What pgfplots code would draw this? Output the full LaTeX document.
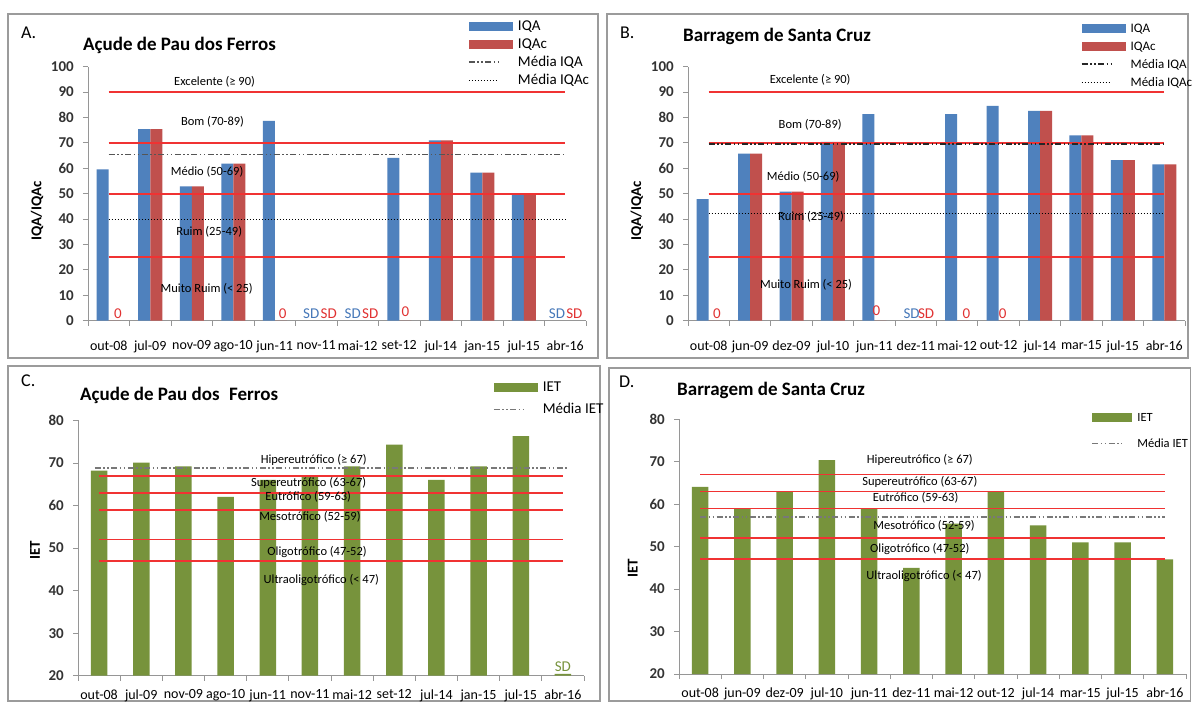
\documentclass[border=0pt]{standalone}
\usepackage{pgfplots}
\pgfplotsset{compat=1.18}
\usepackage{fontspec}
\setmainfont{Carlito}
\definecolor{iqa}{RGB}{79,129,189}
\definecolor{iqac}{RGB}{192,80,77}
\definecolor{iet}{RGB}{119,147,60}
\definecolor{bandred}{RGB}{240,50,50}
\definecolor{framec}{RGB}{155,155,155}
\definecolor{axgray}{RGB}{150,150,150}
\definecolor{meangray}{RGB}{85,85,85}
\definecolor{ietmean}{RGB}{120,120,120}
\definecolor{zerored}{RGB}{225,50,50}
\definecolor{sdblue}{RGB}{70,120,185}
\newcommand{\fs}[1]{\fontsize{#1}{#1}\selectfont}

\tikzset{
  bandlabel/.style={font=\fs{12.5}, text=black, inner sep=0pt},
  zlabel/.style={font=\fs{15}, text=zerored, inner sep=0pt, anchor=south},
  sdlabel/.style={font=\fs{15}, inner sep=0pt, anchor=south},
}
\pgfplotsset{
  panel/.style={
    scale only axis,
    axis lines*=left,
    axis line style={draw=axgray, line width=0.9pt},
    tick style={draw=axgray, line width=0.9pt},
    tick align=outside,
    major tick length=5pt,
    xmin=-0.5, xmax=11.5,
    xtick={-0.5,0.5,...,11.5},
    /pgf/number format/assume math mode=true,
    yticklabel style={font=\fs{15}\bfseries, text=black!80, inner sep=0pt, anchor=east, xshift=-9pt},
    xticklabel style={font=\fs{14}, inner sep=0pt, anchor=north, yshift=-15pt},
    ylabel style={font=\fs{15}\bfseries},
    clip mode=individual,
    legend cell align=left,
    legend style={draw=none, fill=none, font=\fs{15}, anchor=north west, inner sep=0pt,
        nodes={inner sep=1pt, text height=10pt, text depth=2pt},
        /tikz/every odd column/.append style={column sep=4pt}},
  },
  bandline/.style={color=bandred, draw=bandred, line width=1.8pt, forget plot, mark=none, sharp plot, solid},
  dashdotdot/.style={dash pattern=on 6pt off 2.5pt on 1.5pt off 2.5pt on 1.5pt off 2.5pt},
  barlegend/.style={legend image code/.code={\fill[##1] (0pt,-4.5pt) rectangle (44pt,4.5pt);}},
  barlegendD/.style={legend image code/.code={\fill[##1] (0pt,-4.5pt) rectangle (40pt,4.5pt);}},
  linelegend/.style={legend image code/.code={\draw[##1] (0pt,0pt) -- (30pt,0pt);}},
}

\begin{document}
\begin{tikzpicture}[x=1pt, y=1pt]
\useasboundingbox (0,0) rectangle (1192,702);
\fill[white] (0,0) rectangle (1192,702);
% frames
\draw[framec, line width=1.5pt] (8,344) rectangle (598,688);
\draw[framec, line width=1.5pt] (607,344) rectangle (1188,688);
\draw[framec, line width=1.5pt] (8,1) rectangle (600,336);
\draw[framec, line width=1.5pt] (609,1) rectangle (1190.5,334);
% titles
\node[anchor=west, font=\fs{18}, inner sep=0pt] at (21,669) {A.};
\node[anchor=west, font=\fs{19}\bfseries, inner sep=0pt] at (83,657) {Açude de Pau dos Ferros};
\node[anchor=west, font=\fs{18}, inner sep=0pt] at (620,669) {B.};
\node[anchor=west, font=\fs{19}\bfseries, inner sep=0pt] at (683,666) {Barragem de Santa Cruz};
\node[anchor=west, font=\fs{18}, inner sep=0pt] at (21,321) {C.};
\node[anchor=west, font=\fs{19}\bfseries, inner sep=0pt] at (80,307) {Açude de Pau dos\hspace{0.5em}Ferros};
\node[anchor=west, font=\fs{18}, inner sep=0pt] at (619,320) {D.};
\node[anchor=west, font=\fs{19}\bfseries, inner sep=0pt] at (677,312) {Barragem de Santa Cruz};

% ---------------- Panel A ----------------
\begin{axis}[panel, at={(88pt,381.3pt)}, anchor=south west,
  width=498pt, height=254pt, ymin=0, ymax=100, ytick={0,10,...,100},
  xticklabels={out-08,jul-09,nov-09,ago-10,jun-11,nov-11,mai-12,set-12,jul-14,jan-15,jul-15,abr-16,{}},
  xticklabel style={xshift=20.75pt},
  ylabel={IQA/IQAc}, ylabel style={at={(axis description cs:-0.1024,0.432)}, anchor=center},
  legend style={at={(axis description cs:0.763,1.188)}, row sep=4pt},
]
\addplot[ybar, bar width=12pt, bar shift=-6pt, fill=iqa, draw=none, barlegend] coordinates
  {(0,59.6) (1,75.4) (2,52.9) (3,61.8) (4,78.7) (7,64.1) (8,71.0) (9,58.3) (10,50.2)};
\addlegendentry{IQA}
\addplot[ybar, bar width=12pt, bar shift=6pt, fill=iqac, draw=none, barlegend] coordinates
  {(0,0) (1,75.4) (2,52.9) (3,61.8) (4,0) (7,0) (8,71.0) (9,58.3) (10,50.2)};
\addlegendentry{IQAc}
\addplot[bandline] coordinates {(0,90) (11,90)};
\addplot[bandline] coordinates {(0,70) (11,70)};
\addplot[bandline] coordinates {(0,50) (11,50)};
\addplot[bandline] coordinates {(0,25) (11,25)};
\addplot[sharp plot, mark=none, draw=meangray, line width=1.6pt, dashdotdot, linelegend] coordinates {(0,65.5) (11,65.5)};
\addlegendentry{Média IQA}
\addplot[sharp plot, mark=none, draw=black, line width=1pt, dash pattern=on 1.5pt off 1.5pt, linelegend] coordinates {(0,40) (11,40)};
\addlegendentry{Média IQAc}
\node[bandlabel] at (axis cs:2.55,94.1) {Excelente (≥ 90)};
\node[bandlabel] at (axis cs:2.5,78.3) {Bom (70-89)};
\node[bandlabel] at (axis cs:2.37,58.7) {Médio (50-69)};
\node[bandlabel] at (axis cs:2.42,35) {Ruim (25-49)};
\node[bandlabel] at (axis cs:2.36,12.5) {Muito Ruim (< 25)};
\node[zlabel] at (axis cs:0.22,0.8) {0};
\node[zlabel] at (axis cs:4.19,0.8) {0};
\node[zlabel] at (axis cs:7.15,1.5) {0};
\node[sdlabel, text=sdblue] at (axis cs:4.88,0.8) {SD};
\node[sdlabel, text=zerored] at (axis cs:5.3,0.8) {SD};
\node[sdlabel, text=sdblue] at (axis cs:5.88,0.8) {SD};
\node[sdlabel, text=zerored] at (axis cs:6.3,0.8) {SD};
\node[sdlabel, text=sdblue] at (axis cs:10.8,0.8) {SD};
\node[sdlabel, text=zerored] at (axis cs:11.22,0.8) {SD};
\end{axis}

% ---------------- Panel B ----------------
\begin{axis}[panel, at={(688pt,381.3pt)}, anchor=south west,
  width=497pt, height=254pt, ymin=0, ymax=100, ytick={0,10,...,100},
  xticklabels={out-08,jun-09,dez-09,jul-10,jun-11,dez-11,mai-12,out-12,jul-14,mar-15,jul-15,abr-16,{}},
  xticklabel style={xshift=20.7pt},
  ylabel={IQA/IQAc}, ylabel style={at={(axis description cs:-0.103,0.432)}, anchor=center},
  legend style={at={(axis description cs:0.79,1.18)}, row sep=4pt, font=\fs{13}},
]
\addplot[ybar, bar width=12pt, bar shift=-6pt, fill=iqa, draw=none, barlegend] coordinates
  {(0,47.9) (1,65.8) (2,50.8) (3,70.4) (4,81.3) (6,81.3) (7,84.6) (8,82.6) (9,73.0) (10,63.2) (11,61.5)};
\addlegendentry{IQA}
\addplot[ybar, bar width=12pt, bar shift=6pt, fill=iqac, draw=none, barlegend] coordinates
  {(0,0) (1,65.8) (2,50.8) (3,70.4) (4,0) (6,0) (7,0) (8,82.6) (9,73.0) (10,63.2) (11,61.5)};
\addlegendentry{IQAc}
\addplot[bandline] coordinates {(0,90) (11,90)};
\addplot[bandline] coordinates {(0,70) (11,70)};
\addplot[bandline] coordinates {(0,50) (11,50)};
\addplot[bandline] coordinates {(0,25) (11,25)};
\addplot[sharp plot, mark=none, draw=black!85, line width=1.6pt, dashdotdot, linelegend] coordinates {(0,69.5) (11,69.5)};
\addlegendentry{Média IQA}
\addplot[sharp plot, mark=none, draw=black, line width=1pt, dash pattern=on 1.5pt off 1.5pt, linelegend] coordinates {(0,42.4) (11,42.4)};
\addlegendentry{Média IQAc}
\node[bandlabel] at (axis cs:2.45,95) {Excelente (≥ 90)};
\node[bandlabel] at (axis cs:2.45,77) {Bom (70-89)};
\node[bandlabel] at (axis cs:2.28,56.6) {Médio (50-69)};
\node[bandlabel] at (axis cs:2.47,41) {Ruim (25-49)};
\node[bandlabel] at (axis cs:2.35,14) {Muito Ruim (< 25)};
\node[zlabel] at (axis cs:0.2,0.8) {0};
\node[zlabel] at (axis cs:4.05,2) {0};
\node[zlabel] at (axis cs:6.22,0.8) {0};
\node[zlabel] at (axis cs:7.1,0.8) {0};
\node[sdlabel, text=sdblue] at (axis cs:4.9,0.8) {SD};
\node[sdlabel, text=zerored] at (axis cs:5.25,0.8) {SD};
\end{axis}

% ---------------- Panel C ----------------
\begin{axis}[panel, at={(78pt,26.3pt)}, anchor=south west,
  width=506pt, height=255.3pt, ymin=20, ymax=80, ytick={20,30,...,80},
  xticklabels={out-08,jul-09,nov-09,ago-10,jun-11,nov-11,mai-12,set-12,jul-14,jan-15,jul-15,abr-16,{}},
  xticklabel style={xshift=21.08pt, yshift=6pt},
  ylabel={IET}, ylabel style={at={(axis description cs:-0.085,0.49)}, anchor=center},
  legend style={at={(axis description cs:0.82,1.158)}, row sep=8pt},
]
\addplot[ybar, bar width=16.5pt, bar shift=0pt, fill=iet, draw=none, barlegend] coordinates
  {(0,68.2) (1,70.1) (2,69.2) (3,62.0) (4,66.0) (5,67.0) (6,69.2) (7,74.3) (8,66.0) (9,69.2) (10,76.3) (11,20.4)};
\addlegendentry{IET}
\addplot[bandline] coordinates {(0,67) (11,67)};
\addplot[bandline] coordinates {(0,63) (11,63)};
\addplot[bandline] coordinates {(0,59) (11,59)};
\addplot[bandline] coordinates {(0,52) (11,52)};
\addplot[bandline] coordinates {(0,47) (11,47)};
\addplot[sharp plot, mark=none, draw=ietmean, line width=1.4pt, dashdotdot, linelegend] coordinates {(-0.1,68.8) (11.1,68.8)};
\addlegendentry{Média IET}
\node[bandlabel] at (axis cs:5.09,70.6) {Hipereutrófico (≥ 67)};
\node[bandlabel] at (axis cs:4.97,65.2) {Supereutrófico (63-67)};
\node[bandlabel] at (axis cs:4.96,62.0) {Eutrófico (59-63)};
\node[bandlabel] at (axis cs:5.0,57.3) {Mesotrófico (52-59)};
\node[bandlabel] at (axis cs:5.17,49.1) {Oligotrófico (47-52)};
\node[bandlabel] at (axis cs:5.27,42.6) {Ultraoligotrófico (< 47)};
\node[sdlabel, text=iet] at (axis cs:11,21) {SD};
\end{axis}

% ---------------- Panel D ----------------
\begin{axis}[panel, at={(679pt,28pt)}, anchor=south west,
  width=507pt, height=254.7pt, ymin=20, ymax=80, ytick={20,30,...,80},
  xticklabels={out-08,jun-09,dez-09,jul-10,jun-11,dez-11,mai-12,out-12,jul-14,mar-15,jul-15,abr-16,{}},
  xticklabel style={xshift=21.125pt, yshift=6pt},
  ylabel={IET}, ylabel style={at={(axis description cs:-0.091,0.416)}, anchor=center},
  legend style={at={(axis description cs:0.8135,1.0365)}, row sep=12pt, font=\fs{12.5}},
]
\addplot[ybar, bar width=16.5pt, bar shift=0pt, fill=iet, draw=none, barlegendD] coordinates
  {(0,64.1) (1,59.0) (2,63.1) (3,70.4) (4,59.0) (5,45.0) (6,55.4) (7,63.1) (8,55.0) (9,51.0) (10,51.0) (11,47.0)};
\addlegendentry{IET}
\addplot[bandline] coordinates {(0,67) (11,67)};
\addplot[bandline] coordinates {(0,63) (11,63)};
\addplot[bandline] coordinates {(0,59) (11,59)};
\addplot[bandline] coordinates {(0,52) (11,52)};
\addplot[bandline] coordinates {(0,47) (11,47)};
\addplot[sharp plot, mark=none, draw=ietmean, line width=1.4pt, dashdotdot, linelegend] coordinates {(0,57) (11,57)};
\addlegendentry{Média IET}
\node[bandlabel] at (axis cs:5.2,70.4) {Hipereutrófico (≥ 67)};
\node[bandlabel] at (axis cs:5.2,65.3) {Supereutrófico (63-67)};
\node[bandlabel] at (axis cs:5.1,61.6) {Eutrófico (59-63)};
\node[bandlabel] at (axis cs:5.3,55.0) {Mesotrófico (52-59)};
\node[bandlabel] at (axis cs:5.2,49.4) {Oligotrófico (47-52)};
\node[bandlabel] at (axis cs:5.3,43.0) {Ultraoligotrófico (< 47)};
\end{axis}
\end{tikzpicture}
\end{document}
